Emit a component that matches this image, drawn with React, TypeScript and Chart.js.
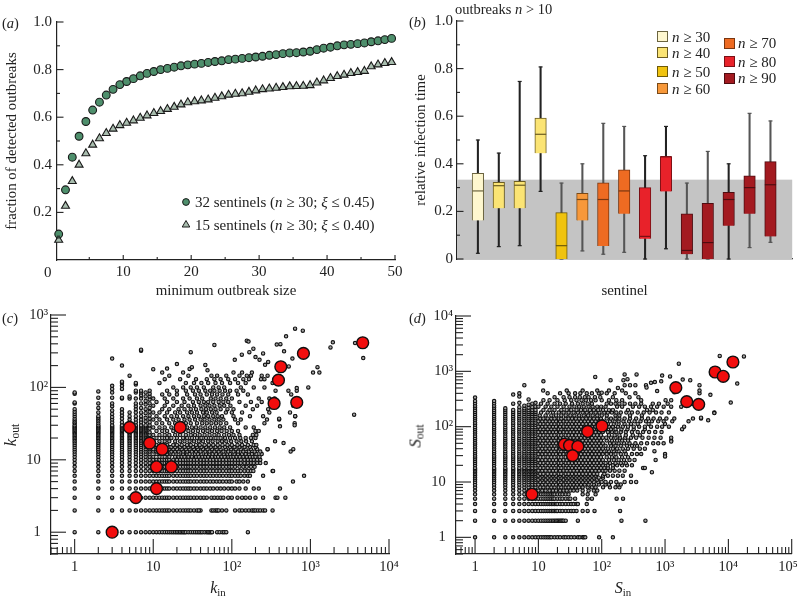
import React, { useEffect, useRef } from "react";
import { Chart, registerables } from "chart.js";

Chart.register(...registerables);

const FONT = "'Liberation Serif', serif";
const INK = "#222";

/* ---------- panel (a) ---------- */
const minOutbreak = [0.5,1.5,2.5,3.5,4.5,5.5,6.5,7.5,8.5,9.5,10.5,11.5,12.5,13.5,14.5,15.5,16.5,17.5,18.5,19.5,20.5,21.5,22.5,23.5,24.5,25.5,26.5,27.5,28.5,29.5,30.5,31.5,32.5,33.5,34.5,35.5,36.5,37.5,38.5,39.5,40.5,41.5,42.5,43.5,44.5,45.5,46.5,47.5,48.5,49.5];
const sentinels32 = [.109,.295,.432,.52,.582,.63,.663,.693,.717,.737,.75,.762,.774,.784,.792,.80,.805,.81,.816,.82,.823,.826,.83,.834,.837,.842,.844,.847,.85,.853,.856,.86,.863,.867,.87,.871,.874,.877,.884,.89,.894,.90,.904,.906,.909,.912,.917,.921,.926,.931];
const sentinels15 = [.084,.227,.331,.40,.448,.484,.511,.533,.551,.566,.576,.586,.597,.607,.617,.625,.634,.643,.653,.662,.666,.67,.674,.681,.687,.694,.698,.70,.706,.712,.717,.72,.723,.726,.729,.73,.731,.734,.745,.754,.764,.772,.778,.785,.789,.794,.813,.821,.827,.831];

/* ---------- panel (b) ---------- */
const sentinelIds = [1,2,3,4,5,6,7,8,9,10,11,12,13,14,15];
const whiskerLow = [.024,.052,.056,.284,0,.034,.02,.028,0,.043,0,0,0,.048,.07];
const whiskerHigh = [.5,.445,.746,.807,.319,.40,.57,.557,.434,.557,.319,.452,.40,.612,.58];
const boxLow = [.162,.213,.213,.444,0,.162,.055,.19,.085,.284,.02,0,.14,.19,.095];
const boxHigh = [.36,.322,.326,.592,.195,.276,.32,.375,.30,.43,.19,.234,.28,.349,.409];
const boxMedian = [.286,.308,.31,.524,.056,.25,.25,.286,.095,.43,.036,.069,.25,.30,.312];
const classFill = ["#FEF7CF","#FBE474","#F0C30F","#F7983A","#EE6B22","#E8222A","#A31A20"];
const classEdge = ["#6b6440","#6b5c20","#6e5a08","#7a4a18","#7a3610","#7a1015","#4e0c10"];
const boxClass = [0,1,1,1,2,3,4,4,5,5,6,6,6,6,6];
const whiskerColor = ["#222","#222","#222","#222","#555","#555","#555","#555","#222","#222","#555","#555","#222","#555","#555"];
const thresholdBand = 1 / 3;

/* ---------- panel (c) ---------- */
const i20 = [1,2,3,4,5,6,7,8,9,10,11,12,13,14,15,16,17,18,19,20];
const i30 = [...i20,21,22,23,24,25,26,27,28,29,30];
const kColumns: [number, number[]][] = [
  [1,[...i30,32,33,35,37,40,43,46,50,60,62,82,85]],
  [2,[...i30,32,34,36,38,40,45,52,60,72,88]],
  [3,[...i30,33,36,39,43,48,55,60,72,85,95,105,250]],
  [4,[...i30,33,37,41,45,50,70,72,95,105,115,120,200]],
  [5,[...i30,33,36,40,45,70,75,145]],
  [6,[...i30,33,36,40,45,50,55,60,70,85,90,110,115]],
  [7,[...i30,33,36,40,45,52,60,70,78,85,90,320]],
  [8,[...i30,34,38,44,50,58,65,75,85]],
  [9,[...i20,22,24,27,30,33,37,41,46,52,60,68,75,82,90]],
];
const kChainA = [10,11,12,13,14,15,16,18,20,22,24,26,28,30,33,36,40];
const kChainB = [44,48,53,58,64,70,77,85,93,100];
const kChainC = [110,120,130,145,160,175,190,210,230];
const kRows: [number, number[]][] = [
  [1,[10,11,12,13,14,15,16,17,18,19,20,21,22,23,24,25,26,28,30,32,34,36,38,40,42,45,48,50,52,54,56,65,70,76,80,85,160]],
  [2,[...kChainA,38,55,58,62,65,68,75,85,110,125,135,150,165,180,190,200,215,230,250,265,330]],
  [3,[...kChainA,44,48,55,60,66,72,78,90,100,118,135,150,170,200,250,360,380,480]],
  [4,[...kChainA,44,48,53,58,65,72,80,90,100,110,125,150,190,220,410]],
  [5,[...kChainA,...kChainB,115,125,140,160,600]],
  [6,[...kChainA,...kChainB,110,120,130,145,160,170,250,830]],
  [7,[...kChainA,...kChainB,110,120,130,145,160,175,188,330]],
  [8,[...kChainA,...kChainB,110,125,140,155,175,195]],
  [9,[...kChainA,...kChainB,...kChainC,270]],
  [10,[...kChainA,...kChainB,...kChainC]],
  [11,[10,12,14,16,19,21,23,25,28,31,35,38,42,46,50,56,62,67,74,81,90,97,105,115,126,140,155,170,185,200,225]],
  [12,[11,13,15,17,18,21,24,27,29,34,37,41,47,52,57,63,70,79,88,95,108,120,135,150,165,180,205,240]],
  [13,[10,11,12,14,15,17,19,21,24,27,31,35,40,46,52,60,68,78,90,105,120,140,165,195,230]],
  [14,[10,12,13,15,16,18,20,23,26,29,33,37,43,49,56,64,72,84,98,112,130,150,175,210,285]],
  [15,[11,12,14,16,17,19,22,25,28,32,36,41,47,54,62,70,82,95,108,125,145,170,200]],
  [16,[10,11,13,15,18,20,23,27,30,35,39,45,51,58,66,76,88,100,118,135,160,190,205]],
  [18,[10,12,14,16,19,22,25,29,33,38,43,50,57,66,75,85,98,115,132,152,180,355]],
  [20,[11,13,15,17,20,24,27,31,36,41,47,54,62,72,82,95,110,128,150,175,200]],
  [22,[10,12,14,16,19,22,26,30,34,39,45,52,60,68,80,92,105,125,185,205]],
  [25,[11,13,15,18,21,24,28,32,37,43,49,56,65,74,86,100,120,200,220]],
  [28,[10,12,14,17,20,27,31,35,40,46,53,61,70,80,95,150,190]],
  [32,[11,13,16,19,23,26,30,36,42,48,55,63,72,85,120,260,630]],
  [36,[10,12,15,18,21,25,29,34,40,45,52,60,68,78,110,130,280,400]],
  [40,[11,14,17,20,24,28,33,38,44,50,58,66,75,105,170,250,640]],
  [45,[10,12,15,19,22,27,31,36,43,48,56,64,84,100,135,550,300]],
  [50,[13,16,21,25,30,35,41,47,54,62,72,88,105,185,290]],
  [56,[10,14,18,23,28,33,40,46,52,60,70,80,96,150,210,380,605]],
  [63,[11,15,20,25,32,38,44,50,58,68,78,90,125,175,240,320]],
  [70,[10,14,18,24,29,36,42,54,62,72,85,100,220,300,350]],
  [80,[13,16,20,27,34,40,48,56,65,76,90,120,160,570]],
  [90,[15,20,26,32,38,46,53,60,70,82,95,115,140,360,525,670]],
  [100,[18,24,30,36,44,58,68,80,130,190,260,940]],
  [115,[12,26,33,41,50,62,75,95,120,150,330]],
  [130,[14,22,35,48,60,72,90,110,140,165,235,260]],
  [145,[16,28,55,65,85,125,155,175,240,285]],
  [160,[13,24,105,135,180,1080,1300]],
];
const kOutliers: [number, number][] = [[638,647],[800,607],[490,507],[155,442],[163,430],[60,385],[373,390],[415,395],[462,315],[7,331],[30,307],[20,210],[15,182],[10,178],[29,180],[31,190],[46,204],[49,172],[109,240],[134,283],[167,307],[188,342],[200,262],[250,295],[225,240],[265,205],[290,225],[4700,254],[1800,357],[1930,420],[3700,410],[3600,42],[1230,190],[605,14],[560,13],[670,98],[605,60],[640,40],[630,30],[400,37],[410,29],[455,17],[335,7],[285,14],[590,250],[530,195]];
const kRedIn = [3,5,9,13,11,17,11,6,22,345,670,392,420,815,4630];
const kRedOut = [1,28,17,14,8,8,4,3,28,60,62,126,193,295,414];

/* ---------- panel (d) ---------- */
const sTall = [1,2,3,4,5,6,7,8,9,10,11,12,13,14,15,16,17,18,20,22,24,26,28,30,33,36,40,44,48,52,57,62,68,75,82,90,98,108,118,130,142,155,170,185,200];
const sColumns: [number, number[]][] = [
  [1,[...sTall,220,240,265,290,335]],
  [2,[...sTall,220,240,265,290]],
  [3,[...sTall,215]],
  [4,[...sTall,260,380]],
  [5,[...sTall,225,270,350,400]],
  [6,[...sTall,215,240,560]],
  [7,[...sTall,220,250,310]],
  [8,[...sTall,225,260]],
  [9,[...sTall,230,270]],
];
const sChainA = [10,11.5,13,15,17,19,22,25,28,32,36,41,47,54,61,70,80,91,104];
const sChainB = [10.7,12,14,16,18,21,23,27,30,34,39,44,50,57,65,75,85,97];
const sRows: [number, number[]][] = [
  [1,[10,11,12,13,14,15,16,18,20,22,25,27,30,33,37,42,45,50,52,55,91,150]],
  [2,[10,11,12,13,14,15,16,17,18,19,20,21,22,23,24,25,27,42,205,490]],
  [3,[10,11,12,13,14,15,16,17,18,19,20,22,24,27,30,33,36,40,50,60,77,195]],
  [4,[10,11,12,13,14,15,16,17,18,19,20,22,24,27,30,33,36,40,42,58]],
  [5,[10,11,12,13,14,15,16,17,18,20,22,24,27,30,32,38,60,70,172,217]],
  [6,[10,11,12,13,14,15,16,17,18,20,22,24,27,30,50,60,80]],
  [7,[...sChainA.slice(0,12),50,62,75,85]],
  [8,[...sChainB.slice(0,13),60,70,80,105,135,165,190]],
  [9,[...sChainA.slice(0,14),62,75,90,115,130,180,200]],
  [10,[...sChainB.slice(0,15),75,88,100,115,140,170,230,290,350]],
  [11,[...sChainA.slice(0,16),85]],
  [12,[...sChainB.slice(0,16),90,105]],
  [13,[...sChainA.slice(0,17),105,125,150,180,215,290]],
  [14,[...sChainB.slice(0,17),110]],
  [16,[...sChainA,115,135,160,190,230]],
  [18,[...sChainB,110,125,150,450]],
  [20,[...sChainA,125,150,175,210,250,300]],
  [22,[...sChainB,115,135,165,200,240]],
  [25,[...sChainA,130,155,185,225,275,330,710]],
  [28,[...sChainB,120,145,170,210,260]],
  [32,[...sChainA,120,140,165,200,240,300,360,420,1000]],
  [36,[...sChainB,110,130,155,185,230,680]],
  [40,[...sChainA,125,150,175,215,260,320,400,480]],
  [45,[...sChainB,115,140,165,200,250,300,360]],
  [50,[...sChainA,135,155,185,225,275,340,420,520,650,780,950]],
  [56,[...sChainB,120,145,175,210,260,1250]],
  [63,[...sChainA,118,140,165,195,235,290,350,440,550,680,850,1250]],
  [70,[...sChainB,130,160,190,240,310,400]],
  [80,[...sChainA,125,145,170,200,240,300,370,450,560,700,880]],
  [90,[...sChainB,115,140,165,205,255,320,480,1860]],
  [100,[...sChainA,130,150,180,215,260,320,390,480,600,750,900,1150,2000]],
  [112,[...sChainB,125,155,185,230,290,370,550,1000]],
  [125,[...sChainA,135,160,185,220,270,330,410,500,620,780,950,1300,2350]],
  [140,[...sChainB,120,140,165,190,230,280,350,430,540,660,830,1050,1400,2760,3700]],
  [160,[10.5,13,16,19,23,27,32,37,44,52,61,72,85,100,120,165,190,280,430]],
  [180,[11,14,17,21,25,30,36,42,50,58,68,80,92,110,125,145,170,200,245,300,370,460,570,720,880,1150,6000]],
  [200,[12,15,18,23,28,33,40,47,55,65,75,88,105,130,150,260,520,640]],
  [230,[10,13,16,20,25,31,37,44,52,62,72,85,98,115,175,210,310,390,480,600,750,950,1250,1800]],
  [260,[11,14,18,22,27,34,42,50,60,70,120,140,165,190,230,280,340,420,640,800,1100,2700]],
  [300,[12,15,20,26,33,40,48,56,68,80,100,130,170,210,420,1250]],
  [340,[18,25,31,38,45,54,62,78,95,150,275,380]],
  [400,[14,22,30,38,46,58,70,90,120,160,240,340,3500]],
  [450,[11.9,28,50,85,130,210,3500]],
  [560,[230,340,500,3500]],
];
const sOutliers: [number, number][] = [[17600,1860],[7300,1900],[1650,1376],[13800,600],[10900,272],[6000,176],[5200,377],[4800,130],[3700,145],[2500,690],[1900,710],[1200,810],[900,840],[870,660],[690,640],[510,510],[355,880],[230,880],[255,720],[220,690],[138,690],[79,790],[12,660],[1250,54],[620,15],[480,18],[1000,29],[600,620],[750,440],[1020,300],[1400,420],[280,560],[180,500],[100,410]];
const sRedIn = [7.9,25.7,31,42,34.7,60,101,1480,2200,3400,6170,8300,11800];
const sRedOut = [6,48,46,44,30,82,103,507,283,253,973,813,1475];

const decadeLabels: Record<number, string> = {
  1: "1\u2002", 10: "10\u2002", 100: "10²", 1000: "10³", 10000: "10⁴",
};
const decadeLabelsX: Record<number, string> = {
  1: "1", 10: "10", 100: "10²", 1000: "10³", 10000: "10⁴", 100000: "10⁵\u2002",
};
const logMinor = (top: number) => {
  const out: number[] = [];
  for (let d = 0.1; d < top; d *= 10) for (const m of [2,3,4,5,6,7,8,9]) {
    const v = Math.round(d * m * 1000) / 1000;
    if (v >= 0.5 && v < top) out.push(v);
  }
  return out;
};

/* ---------- helpers ---------- */
type TickSpec = { major: number[]; minor: number[]; majorLen: number; minorLen: number };
const inwardTicks = {
  id: "inwardTicks",
  afterDatasetsDraw(chart: any, _a: any, opts: any) {
    const { ctx, chartArea: a, scales } = chart;
    ctx.save();
    ctx.strokeStyle = INK;
    const run = (spec: TickSpec, horizontal: boolean) => {
      if (!spec) return;
      const s = horizontal ? scales.x : scales.y;
      const one = (v: number, len: number) => {
        const p = s.getPixelForValue(v);
        ctx.beginPath();
        if (horizontal) { ctx.moveTo(p, a.bottom); ctx.lineTo(p, a.bottom - len); }
        else { ctx.moveTo(a.left, p); ctx.lineTo(a.left + len, p); }
        ctx.stroke();
      };
      ctx.lineWidth = 1.1;
      spec.major.forEach((v) => one(v, spec.majorLen));
      spec.minor.forEach((v) => one(v, spec.minorLen));
    };
    run(opts.x, true);
    run(opts.y, false);
    ctx.restore();
  },
};
const band = {
  id: "band",
  beforeDatasetsDraw(chart: any, _a: any, opts: any) {
    if (opts.top === undefined) return;
    const { ctx, chartArea: a, scales } = chart;
    const y = scales.y.getPixelForValue(opts.top);
    ctx.save();
    ctx.fillStyle = "#C4C4C4";
    ctx.fillRect(a.left, y, a.right - a.left, a.bottom - y);
    ctx.restore();
  },
};

const axis = (o: any) => {
  const { size, horizontal, values, labelOf, fontSize = 15, padding = 4, ...rest } = o;
  return {
    grid: { display: false, drawTicks: false },
    border: { display: true, color: INK, width: 1.2 },
    afterBuildTicks: (s: any) => { s.ticks = values.map((v: number) => ({ value: v })); },
    afterFit: (s: any) => {
      if (horizontal) s.height = size; else s.width = size;
      s.paddingLeft = s.paddingRight = s.paddingTop = s.paddingBottom = 0;
    },
    ticks: {
      display: values.length > 0,
      autoSkip: false, maxRotation: 0, minRotation: 0, padding,
      color: INK, font: { family: FONT, size: fontSize },
      callback: (v: number) => labelOf(v),
    },
    ...rest,
  };
};
const axisTitle = (text: string, pad: any) => ({
  display: true, text, color: INK, padding: pad, font: { family: FONT, size: 14.9 },
});

function useChart(make: () => any) {
  const ref = useRef<HTMLCanvasElement>(null);
  useEffect(() => {
    const c = new Chart(ref.current as HTMLCanvasElement, make());
    return () => c.destroy();
  }, []);
  return ref;
}

const base = {
  animation: false, responsive: false, maintainAspectRatio: false,
};

function Panel({ make, left, top, w, h }: any) {
  const ref = useChart(make);
  return (
    <canvas ref={ref} width={w} height={h}
      style={{ position: "absolute", left, top, width: w, height: h, display: "block" }} />
  );
}

function Txt({ x, y, size = 14, anchor = "left", rotate = false, children }: any) {
  const tx = anchor === "center" ? "-50%" : "0";
  return (
    <div style={{
      position: "absolute", left: x, top: y, fontFamily: FONT, fontSize: size, color: INK,
      lineHeight: 1, whiteSpace: "nowrap",
      transform: `translate(${tx},-50%)${rotate ? " rotate(-90deg)" : ""}`,
    }}>{children}</div>
  );
}
const Sub = ({ children }: any) => (
  <span style={{ fontSize: "0.68em", position: "relative", top: "0.3em", lineHeight: 0 }}>{children}</span>
);
const Swatch = ({ x, y, w = 11, h = 11, c, e }: any) => (
  <div style={{ position: "absolute", left: x, top: y, width: w, height: h, background: c,
    border: `1px solid ${e}`, boxSizing: "border-box" }} />
);

/* ---------- chart configs ---------- */
const makeA = () => ({
  type: "scatter",
  data: { datasets: [
    { label: "32 sentinels", data: minOutbreak.map((x, i) => ({ x, y: sentinels32[i] })), pointStyle: "circle",
      pointRadius: 3.9, backgroundColor: "#4E8F6C", borderColor: "#1a1a1a", borderWidth: 1.1, clip: false },
    { label: "15 sentinels", data: minOutbreak.map((x, i) => ({ x, y: sentinels15[i] })), pointStyle: "triangle",
      pointRadius: 4.6, backgroundColor: "#A8BDAE", borderColor: "#1a1a1a", borderWidth: 1.1, clip: false },
  ] },
  plugins: [inwardTicks],
  options: {
    ...base,
    layout: { padding: { top: 22, right: 25, left: 0, bottom: 0 } },
    plugins: { legend: { display: false }, tooltip: { enabled: false },
      inwardTicks: {
        x: { major: [10,20,30,40,50], minor: [5,15,25,35,45], majorLen: 5, minorLen: 3 },
        y: { major: [.2,.4,.6,.8,1], minor: [.1,.3,.5,.7,.9], majorLen: 6.5, minorLen: 3 },
      } },
    scales: {
      x: axis({ type: "linear", horizontal: true, size: 40, min: 0.25, max: 50, values: [10,20,30,40,50],
        labelOf: (v: number) => String(v), padding: 3,
        title: axisTitle("minimum outbreak size", { top: 0, bottom: 0 }) }),
      y: axis({ type: "linear", size: 57, min: 0, max: 1, values: [.2,.4,.6,.8,1],
        labelOf: (v: number) => v.toFixed(1), padding: 5,
        title: axisTitle("fraction of detected outbreaks", { top: 3, bottom: 0 }) }),
    },
  },
});

const makeB = () => ({
  type: "bar",
  data: { datasets: [
    { type: "scatter", label: "median", order: 0, clip: false, pointStyle: "line", pointRadius: 5.6,
      borderWidth: 1.2, pointBorderColor: boxClass.map((c) => classEdge[c]),
      data: sentinelIds.map((x, i) => ({ x, y: boxMedian[i] })) },
    { type: "bar", label: "box", order: 1, grouped: false, barThickness: 11.5, clip: false,
      backgroundColor: boxClass.map((c) => classFill[c]), borderColor: boxClass.map((c) => classEdge[c]), borderWidth: 1,
      data: sentinelIds.map((x, i) => ({ x, y: [boxLow[i], boxHigh[i]] })) },
    { type: "bar", label: "whisker", order: 2, grouped: false, barThickness: 1.4, clip: false,
      backgroundColor: whiskerColor,
      data: sentinelIds.map((x, i) => ({ x, y: [whiskerLow[i], whiskerHigh[i]] })) },
    { type: "scatter", label: "high cap", order: 2, clip: false, pointStyle: "line", pointRadius: 2, borderWidth: 1.2,
      pointBorderColor: whiskerColor, data: sentinelIds.map((x, i) => ({ x, y: whiskerHigh[i] })) },
    { type: "scatter", label: "low cap", order: 2, clip: false, pointStyle: "line", pointRadius: 2, borderWidth: 1.2,
      pointBorderColor: whiskerColor, data: sentinelIds.map((x, i) => ({ x, y: whiskerLow[i] })) },
  ] },
  plugins: [band, inwardTicks],
  options: {
    ...base,
    layout: { padding: { top: 21, right: 4, left: 0, bottom: 0 } },
    plugins: { legend: { display: false }, tooltip: { enabled: false },
      band: { top: thresholdBand },
      inwardTicks: { y: { major: [0,.2,.4,.6,.8,1], minor: [.1,.3,.5,.7,.9], majorLen: 6.5, minorLen: 3 } } },
    scales: {
      x: axis({ type: "linear", horizontal: true, size: 41, min: 0, max: 16.04, values: [], offset: false,
        labelOf: () => "", title: axisTitle("sentinel", { top: 0, bottom: 0 }) }),
      y: axis({ type: "linear", size: 57, min: 0, max: 1, values: [0,.2,.4,.6,.8,1],
        labelOf: (v: number) => (v === 0 ? "0" : v.toFixed(1)), padding: 4,
        title: axisTitle("relative infection time", { top: 12, bottom: 0 }) }),
    },
  },
});

const flatten = (cols: [number, number[]][], rows: [number, number[]][], extra: [number, number][]) => [
  ...cols.flatMap(([x, ys]) => ys.map((y) => ({ x, y }))),
  ...rows.flatMap(([y, xs]) => xs.map((x) => ({ x, y }))),
  ...extra.map(([x, y]) => ({ x, y })),
];

const logOptions = (xMax: number, yMax: number, xVals: number[], yVals: number[], pad: any, xSize: number, ySize: number) => ({
  ...base,
  layout: { padding: pad },
  plugins: { legend: { display: false }, tooltip: { enabled: false },
    inwardTicks: {
      x: { major: xVals, minor: logMinor(xMax), majorLen: 15, minorLen: 7 },
      y: { major: yVals, minor: logMinor(yMax), majorLen: 15, minorLen: 7 },
    } },
  scales: {
    x: axis({ type: "logarithmic", horizontal: true, size: xSize, min: 0.5, max: xMax, values: xVals,
      labelOf: (v: number) => decadeLabelsX[v], fontSize: 14.5, padding: 4 }),
    y: axis({ type: "logarithmic", size: ySize, min: 0.5, max: yMax, values: yVals,
      labelOf: (v: number) => decadeLabels[v], fontSize: 14.5, padding: 3 }),
  },
});

const scatterSets = (cloud: any[], rx: number[], ry: number[]) => [
  { label: "sentinels", data: rx.map((x, i) => ({ x, y: ry[i] })), pointRadius: 5.9,
    backgroundColor: "#F20D0D", borderColor: "#111", borderWidth: 1.4, clip: false },
  { label: "nodes", data: cloud, pointRadius: 1.7, backgroundColor: "#A8A8A8", borderColor: "#111", borderWidth: 1.1, clip: false },
];

const makeC = () => ({
  type: "scatter",
  data: { datasets: scatterSets(flatten(kColumns, kRows, kOutliers), kRedIn, kRedOut) },
  plugins: [inwardTicks],
  options: logOptions(10000, 1000, [1,10,100,1000,10000], [1,10,100,1000],
    { top: 15, right: 11, left: 0, bottom: 0 }, 47, 51),
});

const makeD = () => ({
  type: "scatter",
  data: { datasets: scatterSets(flatten(sColumns, sRows, sOutliers), sRedIn, sRedOut) },
  plugins: [inwardTicks],
  options: logOptions(100000, 10000, [1,10,100,1000,10000,100000], [1,10,100,1000,10000],
    { top: 16, right: 4, left: 0, bottom: 0 }, 47, 56),
});

export default function App() {
  const swatches = [
    { x: 657, y: 31, i: 0 }, { x: 657, y: 47, i: 1 }, { x: 657, y: 66, i: 2 }, { x: 657, y: 83, i: 3 },
    { x: 724, y: 38, i: 4 }, { x: 724, y: 56, i: 5 }, { x: 724, y: 73, i: 6 },
  ];
  return (
    <div style={{ position: "fixed", left: 0, top: 0, width: 799, height: 601, overflow: "hidden", background: "#fff" }}>
      <Panel make={makeA} left={0} top={0} w={420} h={300} />
      <Panel make={makeB} left={400} top={0} w={399} h={300} />
      <Panel make={makeC} left={0} top={300} w={400} h={301} />
      <Panel make={makeD} left={400} top={300} w={399} h={301} />

      <Txt x={2} y={23} size={14.5}>(<i>a</i>)</Txt>
      <Txt x={409} y={22} size={14.5}>(<i>b</i>)</Txt>
      <Txt x={2} y={318} size={14.5}>(<i>c</i>)</Txt>
      <Txt x={409} y={318} size={14.5}>(<i>d</i>)</Txt>
      <Txt x={455} y={9} size={14.5}>outbreaks <i>n</i> &gt; 10</Txt>
      <Txt x={47.7} y={272} size={15} anchor="center">0</Txt>

      <svg style={{ position: "absolute", left: 180, top: 196, width: 14, height: 36 }} viewBox="0 0 14 36">
        <circle cx="6" cy="6" r="3.4" fill="#4E8F6C" stroke="#1a1a1a" />
        <polygon points="6,24.5 9.8,31 2.2,31" fill="#A8BDAE" stroke="#1a1a1a" />
      </svg>
      <Txt x={195} y={202} size={15}>32 sentinels (<i>n</i> ≥ 30; <i>ξ</i> ≤ 0.45)</Txt>
      <Txt x={195} y={224.5} size={15}>15 sentinels (<i>n</i> ≥ 30; <i>ξ</i> ≤ 0.40)</Txt>

      {swatches.map((s) => (
        <Swatch key={s.i} x={s.x} y={s.y} c={classFill[s.i]} e={classEdge[s.i]} />
      ))}
      <Txt x={672} y={37} size={15}><i>n</i> ≥ 30</Txt>
      <Txt x={672} y={53} size={15}><i>n</i> ≥ 40</Txt>
      <Txt x={672} y={72} size={15}><i>n</i> ≥ 50</Txt>
      <Txt x={672} y={89} size={15}><i>n</i> ≥ 60</Txt>
      <Txt x={738} y={43} size={15}><i>n</i> ≥ 70</Txt>
      <Txt x={738} y={62} size={15}><i>n</i> ≥ 80</Txt>
      <Txt x={738} y={78} size={15}><i>n</i> ≥ 90</Txt>

      <Txt x={218} y={588} size={16} anchor="center"><i>k</i><Sub>in</Sub></Txt>
      <Txt x={10} y={435} size={17} anchor="center" rotate><i>k</i><Sub>out</Sub></Txt>
      <Txt x={623} y={588} size={16} anchor="center"><i>S</i><Sub>in</Sub></Txt>
      <Txt x={415} y={436} size={17} anchor="center" rotate><i>S</i><Sub>out</Sub></Txt>
    </div>
  );
}
